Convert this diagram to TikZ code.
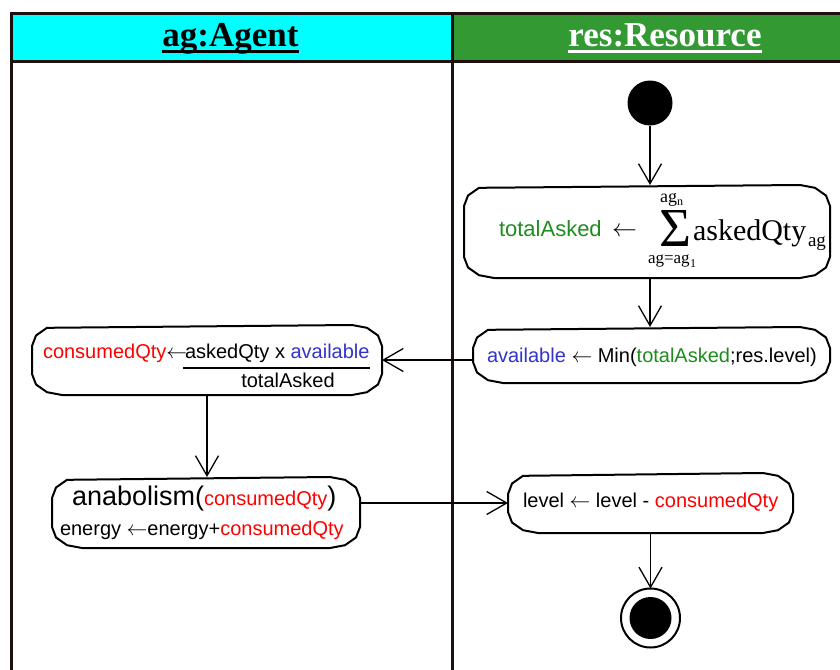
\documentclass[tikz,border=0pt]{standalone}
\usepackage{fontspec}
\setmainfont{Liberation Serif}
\setsansfont{Liberation Sans}
\usetikzlibrary{arrows.meta}
\definecolor{hdrcyan}{RGB}{0,255,255}
\definecolor{hdrgreen}{RGB}{51,153,51}
\definecolor{tgreen}{RGB}{30,140,30}
\definecolor{tblue}{RGB}{51,51,204}
\definecolor{tred}{RGB}{255,0,0}
\definecolor{framec}{RGB}{30,15,15}
\newlength\crx \setlength\crx{30pt}
\newlength\cry \setlength\cry{21pt}
\newcommand\octbox[1]{%
\draw[boxline]
 ([xshift=-\crx]#1.north east)
 -- ([xshift=-0.5\crx, yshift=-0.134\cry]#1.north east)
 -- ([xshift=-0.134\crx, yshift=-0.5\cry]#1.north east)
 -- ([yshift=-\cry]#1.north east)
 -- ([yshift=\cry]#1.south east)
 -- ([xshift=-0.134\crx, yshift=0.5\cry]#1.south east)
 -- ([xshift=-0.5\crx, yshift=0.134\cry]#1.south east)
 -- ([xshift=-\crx]#1.south east)
 -- ([xshift=\crx]#1.south west)
 -- ([xshift=0.5\crx, yshift=0.134\cry]#1.south west)
 -- ([xshift=0.134\crx, yshift=0.5\cry]#1.south west)
 -- ([yshift=\cry]#1.south west)
 -- ([yshift=-\cry]#1.north west)
 -- ([xshift=0.134\crx, yshift=-0.5\cry]#1.north west)
 -- ([xshift=0.5\crx, yshift=-0.134\cry]#1.north west)
 -- cycle;}
\begin{document}
\begin{tikzpicture}[x=1pt,y=-1pt,
 frameline/.style={draw=framec,line width=3pt},
 actshape/.style={draw=none,inner sep=0pt,outer sep=0pt,rectangle},
 boxline/.style={draw=black,line width=2pt,line join=miter},
 txt/.style={inner sep=0pt,outer sep=0pt,anchor=base west,font=\sffamily\fontsize{20}{24}\selectfont},
 hdr/.style={inner sep=0pt,outer sep=0pt,anchor=base,font=\rmfamily\bfseries\fontsize{35}{40}\selectfont},
 ulinestyle/.style={line width=3pt},
 conn/.style={line width=1.3pt,-{Straight Barb[length=20pt,width=23pt,line width=1.3pt]}},
]
\useasboundingbox (0,0) rectangle (840,669);
\begin{scope}
\clip (0,0) rectangle (840,669);
\fill[hdrcyan] (11,14) rectangle (452,62);
\fill[hdrgreen] (452,14) rectangle (860,62);
\draw[frameline] (11,700) -- (11,14) -- (860,14);
\draw[frameline] (11,62) -- (860,62);
\draw[frameline] (452,14) -- (452,700);
\end{scope}

% headers
\node[hdr,text=black] (hA) at (230.5,47) {ag:Agent};
\draw[ulinestyle,black] ([yshift=-4.5pt]hA.base west) -- ([yshift=-4.5pt]hA.base east);
\node[hdr,text=white] (hR) at (665,47) {res:Resource};
\draw[ulinestyle,white] ([yshift=-4.5pt]hR.base west) -- ([yshift=-4.5pt]hR.base east);

% start / end
\node[circle,fill=black,minimum size=45pt,inner sep=0pt,outer sep=0pt] (start) at (650,103) {};
\node[circle,draw=black,line width=2pt,minimum size=59pt,inner sep=0pt,outer sep=0pt] (final) at (650.5,618) {};
\fill[black] (final.center) circle (21pt);

% action boxes
\node[actshape,minimum width=366pt,minimum height=93pt] (sum) at (647,231.5) {};
\node[actshape,minimum width=357pt,minimum height=56pt] (avail) at (651.5,355) {};
\node[actshape,minimum width=350pt,minimum height=70pt] (cons) at (207,360) {};
\node[actshape,minimum width=308pt,minimum height=71pt] (anab) at (206,512.5) {};
\node[actshape,minimum width=285pt,minimum height=60pt] (level) at (650.5,503) {};
\octbox{sum}
\octbox{avail}
\octbox{cons}
\octbox{anab}
\octbox{level}

% box 1 text
\node[txt,font=\sffamily\fontsize{22}{26}\selectfont,text=tgreen] (ta1) at (499,236) {totalAsked};
\node[txt] (ar1) at (612,236) {\fontsize{27}{30}\selectfont$\leftarrow$};
\node[txt,font=\rmfamily\fontsize{55}{60}\selectfont] (sig) at (659,246) {Σ};
\node[txt,font=\rmfamily\fontsize{30}{34}\selectfont] (aq) at (693,240) {askedQty};
\node[txt,font=\rmfamily\fontsize{19}{22}\selectfont] (aqs) at (808,246) {ag};
\node[txt,font=\rmfamily\fontsize{18}{20}\selectfont] (up) at (660,202) {ag};
\node[txt,font=\rmfamily\fontsize{12}{14}\selectfont] (upn) at (677,205) {n};
\node[txt,font=\rmfamily\fontsize{17}{20}\selectfont] (lo) at (648,263) {ag=ag};
\node[txt,font=\rmfamily\fontsize{12}{14}\selectfont] (lo1) at (690,267) {1};

% box 2 text
\node[txt] (av) at (487,362) {\textcolor{tblue}{available} $\leftarrow$ Min(\textcolor{tgreen}{totalAsked};res.level)};

% box 3 text
\node[txt] (c1) at (43,358) {\textcolor{tred}{consumedQty}$\leftarrow$};
\node[txt] (num) at (185,358) {askedQty x \textcolor{tblue}{available}};
\draw[line width=1.5pt] (183,368) -- (370,368);
\node[txt,anchor=base] (den) at (288,387) {totalAsked};

% box 4 text
\node[txt] (an1) at (72,505) {{\fontsize{27}{30}\selectfont anabolism(}\textcolor{tred}{consumedQty}{\fontsize{27}{30}\selectfont)}};
\node[txt] (an2) at (60,535) {energy $\leftarrow$energy+\textcolor{tred}{consumedQty}};

% box 5 text
\node[txt] (lv) at (523,507) {level $\leftarrow$ level - \textcolor{tred}{consumedQty}};

% connectors
\draw[conn] (start) -- (start |- sum.north);
\draw[conn] (start |- sum.south) -- (start |- avail.north);
\draw[conn] (avail.west |- cons.east) -- (cons.east);
\draw[conn] (cons.south) -- (cons.south |- anab.north);
\draw[conn] (anab.east |- level.west) -- (level.west);
\draw[conn] (level.south) -- (final.north);
\end{tikzpicture}
\end{document}
